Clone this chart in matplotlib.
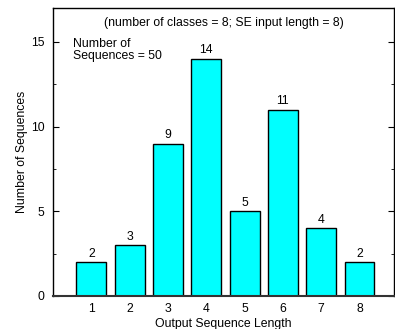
import matplotlib.pyplot as plt
import numpy as np

plt.rcParams['font.family'] = ['Liberation Sans', 'DejaVu Sans']

lengths = [1, 2, 3, 4, 5, 6, 7, 8]
counts = [2, 3, 9, 14, 5, 11, 4, 2]

fs = 8.8
fig = plt.figure(figsize=(3.95, 3.29), dpi=100)
ax = fig.add_axes([53/395, 33/329, 341/395, 288/329])

bars = ax.bar(lengths, counts, width=0.78, color='#00ffff', edgecolor='black', linewidth=1.0, zorder=2)
for x, c in zip(lengths, counts):
    ax.text(x, c + 0.15, str(c), ha='center', va='bottom', fontsize=fs)

ax.set_xlim(0, 8.9)
ax.set_ylim(0, 17)
ax.set_xticks(lengths)
ax.set_yticks([0, 5, 10, 15])
ax.set_yticks([2.5, 7.5, 12.5], minor=True)
ax.tick_params(axis='x', length=0, labelsize=fs, pad=5)
ax.tick_params(axis='y', which='both', direction='in', right=True, labelsize=fs, pad=6)
ax.tick_params(axis='y', which='major', length=4)
ax.tick_params(axis='y', which='minor', length=2)
for s in ax.spines.values():
    s.set_linewidth(1.0)
ax.spines['bottom'].set_linewidth(1.5)
ax.spines['bottom'].set_color('#333333')

ax.set_xlabel('Output Sequence Length', fontsize=fs, labelpad=2)
ax.set_ylabel('Number of Sequences', fontsize=fs, labelpad=2)

ax.text(0.5, 0.968, '(number of classes = 8; SE input length = 8)', transform=ax.transAxes,
        ha='center', va='top', fontsize=fs)
ax.text(0.06, 0.895, 'Number of\nSequences = 50', transform=ax.transAxes,
        ha='left', va='top', fontsize=fs, linespacing=1.0)

fig.savefig('out.png', dpi=100)
